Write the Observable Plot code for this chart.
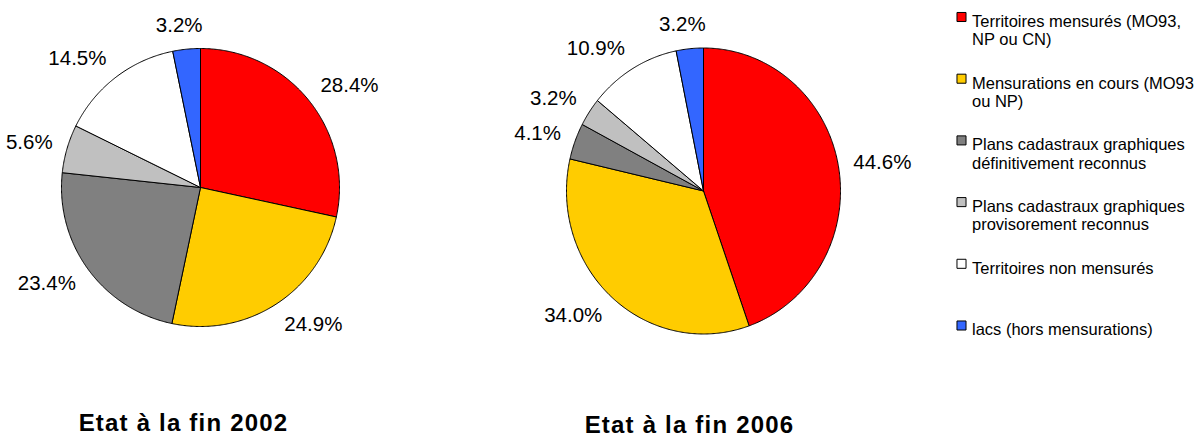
<!DOCTYPE html>
<html><head><meta charset="utf-8">
<script src="https://cdn.jsdelivr.net/npm/d3@7"></script>
<script src="https://cdn.jsdelivr.net/npm/@observablehq/plot@0.6"></script>
<style>
body{margin:0;background:#fff;}
#chart svg{display:block;}
#chart g[font-weight="bold"] text{letter-spacing:1.2px;}
</style></head><body><div id="chart"></div>
<script>
// ---- data ----
const categories = [
  "Territoires mensurés (MO93,\nNP ou CN)",
  "Mensurations en cours (MO93\nou NP)",
  "Plans cadastraux graphiques\ndéfinitivement reconnus",
  "Plans cadastraux graphiques\nprovisorement reconnus",
  "Territoires non mensurés",
  "lacs (hors mensurations)"
];
const colors = ["#FF0000", "#FFCC00", "#808080", "#C0C0C0", "#FFFFFF", "#3366FF"];
const values2002 = [28.4, 24.9, 23.4, 5.6, 14.5, 3.2];
const values2006 = [44.6, 34.0, 4.1, 3.2, 10.9, 3.2];
const titles = ["Etat à la fin 2002", "Etat à la fin 2006"];

// ---- layout ----
const FONT = "Arial, 'Liberation Sans', sans-serif";
const LABEL_SIZE = 20.5;
const pies = [
  {values: values2002, title: titles[0], cx: 200, cy: 187, rx: 139, ry: 139, tx: 183, ty: 422.5},
  {values: values2006, title: titles[1], cx: 703, cy: 190.5, rx: 137, ry: 143, tx: 689, ty: 424.5}
];

const ctx = document.createElement("canvas").getContext("2d");
ctx.font = `${LABEL_SIZE}px ${FONT}`;

const wedgePts = [];
const labels = [];
const titleRows = [];
pies.forEach((p, pi) => {
  const arcs = d3.pie().sort(null).value(d => d)(p.values);
  arcs.forEach((a, i) => {
    const key = `${pi}-${i}`;
    const n = Math.max(2, Math.ceil((a.endAngle - a.startAngle) / (Math.PI / 360)));
    wedgePts.push({key, cat: categories[i], x: p.cx, y: p.cy});
    for (let k = 0; k <= n; ++k) {
      const t = a.startAngle + (a.endAngle - a.startAngle) * k / n;
      wedgePts.push({key, cat: categories[i], x: p.cx + p.rx * Math.sin(t), y: p.cy - p.ry * Math.cos(t)});
    }
    wedgePts.push({key, cat: categories[i], x: p.cx, y: p.cy});
    // label
    const m = (a.startAngle + a.endAngle) / 2;
    const text = `${a.data.toFixed(1)}%`;
    const halfW = ctx.measureText(text).width / 2;
    const halfH = 9, d = 15;
    const ux = Math.sin(m), uy = -Math.cos(m);
    const ax = p.cx + (p.rx + d) * ux, ay = p.cy + (p.ry + d) * uy;
    labels.push({
      text,
      x: ax + halfW * Math.max(-1, Math.min(1, 2.5 * ux)),
      y: ay + halfH * uy
    });
  });
  titleRows.push({text: p.title, x: p.tx, y: p.ty});
});

const legend = categories.map((c, i) => ({cat: c, i}));

const chart = Plot.plot({
  width: 1197,
  height: 437,
  margin: 0,
  style: {fontFamily: FONT, background: "#fff"},
  x: {domain: [0, 1197], range: [0, 1197], axis: null},
  y: {domain: [0, 437], range: [0, 437], axis: null},
  color: {domain: categories, range: colors},
  marks: [
    Plot.line(wedgePts, {x: "x", y: "y", z: "key", fill: "cat", stroke: "black", strokeWidth: 1, curve: "linear"}),
    Plot.text(labels, {x: "x", y: "y", text: "text", fontSize: LABEL_SIZE, fill: "black", fontFamily: FONT}),
    Plot.text(titleRows, {x: "x", y: "y", text: "text", fontSize: 24, fontWeight: "bold", fill: "black", fontFamily: FONT}),
    Plot.dot(legend, {x: () => 961, y: d => 16.5 + 61.7 * d.i, symbol: "square", r: 5.1, fill: "cat", stroke: "black", strokeWidth: 1}),
    Plot.text(legend, {x: () => 971.5, y: d => 13.3 + 61.7 * d.i, text: "cat", textAnchor: "start", lineAnchor: "top", lineHeight: 1.11, fontSize: 16.5, fill: "black", fontFamily: FONT})
  ]
});
document.getElementById("chart").appendChild(chart);
</script>
</body></html>
